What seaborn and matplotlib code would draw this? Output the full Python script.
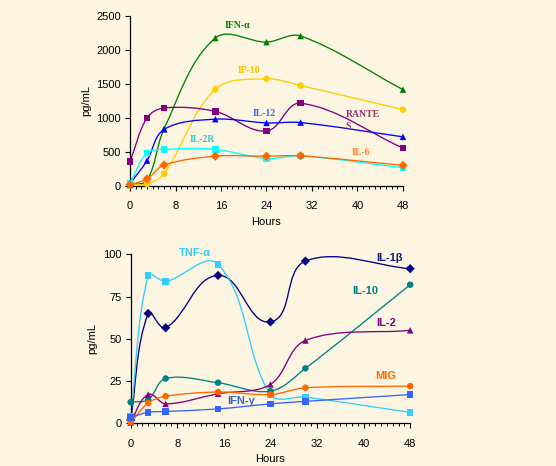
import numpy as np
import pandas as pd
import matplotlib
matplotlib.use("Agg")
import matplotlib.pyplot as plt
from matplotlib.path import Path
from matplotlib.patches import PathPatch
from matplotlib.ticker import MultipleLocator
import seaborn as sns

# Data
hours = [0, 3, 6, 15, 24, 30, 48]

# top panel (pg/mL)
ifn_a = [10, 80, 840, 2175, 2115, 2205, 1415]
ip10 = [15, 25, 175, 1420, 1575, 1475, 1120]
rantes = [355, 1000, 1145, 1095, 805, 1215, 555]
il12 = [30, 370, 830, 980, 925, 930, 720]
il2r = [40, 480, 535, 535, 400, 440, 265]
il6 = [15, 100, 305, 435, 435, 440, 300]

# bottom panel (pg/mL)
il1b = [2, 65, 56.5, 87.5, 60, 96, 91.5]
tnf_a = [4, 87.5, 84, 94, 17, 15.5, 6.5]
il10 = [12.5, 14, 26.5, 24, 19, 32.5, 82]
il2 = [0.5, 17, 11.5, 17.5, 23, 49, 55]
mig = [0.5, 12, 16, 18.5, 17, 21, 22]
ifn_g = [3.5, 6.5, 7, 8.5, 11.5, 13, 17]

top_series = [
    # name, values, line colour, marker, label colour, label pos
    ("IFN-α", ifn_a, "#008000", "^", "#008000", (18.9, 2360)),
    ("IP-10", ip10, "#FFCC00", "o", "#F5C000", (21.0, 1700)),
    ("RANTES", rantes, "#800080", "s", "#993366", None),
    ("IL-12", il12, "#0000FF", "^", "#3366FF", (23.6, 1065)),
    ("IL-2R", il2r, "#00FFFF", "s", "#33CCCC", (12.8, 685)),
    ("IL-6", il6, "#FF6600", "D", "#FF7F27", (40.6, 495)),
]
bottom_series = [
    ("IL-1β", il1b, "#000080", "D", "#1A1A7A", (44.4, 97.8)),
    ("TNF-α", tnf_a, "#33CCFF", "s", "#33CCFF", (11.0, 100.6)),
    ("IL-10", il10, "#008080", "o", "#008080", (40.2, 78.3)),
    ("IL-2", il2, "#800080", "^", "#800080", (43.9, 59.2)),
    ("MIG", mig, "#FF6600", "o", "#FF6600", (43.8, 28.2)),
    ("IFN-γ", ifn_g, "#3366FF", "s", "#3366CC", (19.0, 13.2)),
]

bg = "#FCF5E1"
sns.set_theme(style="ticks", rc={"axes.facecolor": bg, "figure.facecolor": bg})
plt.rcParams["font.family"] = ["Liberation Sans", "DejaVu Sans"]


def smooth_path(xs, ys, sx, sy):
    # smoothed line (bezier through the points), tangents worked out in
    # screen-like units so steep jumps don't overshoot
    pts = np.column_stack([np.asarray(xs) * sx, np.asarray(ys) * sy]).astype(float)
    n = len(pts)
    tang = []
    for i in range(n):
        d = pts[min(i + 1, n - 1)] - pts[max(i - 1, 0)]
        tang.append(d / np.hypot(*d))
    verts = [pts[0]]
    codes = [Path.MOVETO]
    for i in range(n - 1):
        seg = np.hypot(*(pts[i + 1] - pts[i]))
        verts += [pts[i] + tang[i] * seg / 3,
                  pts[i + 1] - tang[i + 1] * seg / 3,
                  pts[i + 1]]
        codes += [Path.CURVE4] * 3
    verts = np.array(verts) / [sx, sy]
    return Path(verts, codes)


def draw_panel(ax, series, ymax, ystep, label_font, label_size):
    df = pd.concat(
        [pd.DataFrame({"hours": hours, "value": vals, "name": name})
         for name, vals, *_ in series],
        ignore_index=True,
    )
    bbox = ax.get_position()
    sx = bbox.width * 556 / 48
    sy = bbox.height * 466 / ymax
    for name, vals, color, marker, lcolor, pos in series:
        ax.add_patch(PathPatch(smooth_path(hours, vals, sx, sy), fill=False,
                               edgecolor=color, lw=0.95, clip_on=False, zorder=2))
    sns.scatterplot(
        data=df, x="hours", y="value", hue="name", style="name",
        palette={s[0]: s[2] for s in series},
        markers={s[0]: s[3] for s in series},
        s=22, linewidth=0, legend=False, ax=ax, clip_on=False, zorder=3,
    )
    for name, vals, color, marker, lcolor, pos in series:
        if pos is not None:
            ax.text(pos[0], pos[1], name, color=lcolor, fontsize=label_size,
                    fontweight="bold", family=label_font,
                    ha="center", va="center")
    ax.set_xlim(0, 48)
    ax.set_ylim(0, ymax)
    ax.xaxis.set_major_locator(MultipleLocator(8))
    ax.xaxis.set_minor_locator(MultipleLocator(1))
    ax.yaxis.set_major_locator(MultipleLocator(ystep))
    ax.tick_params(axis="x", which="major", length=3.5, width=0.8,
                   pad=7.5, labelsize=8, colors="black")
    ax.tick_params(axis="x", which="minor", length=2, width=0.7, colors="black")
    ax.tick_params(axis="y", which="major", length=3.5, width=0.8,
                   pad=3, labelsize=8, colors="black")
    for side in ["top", "right"]:
        ax.spines[side].set_visible(False)
    for side in ["left", "bottom"]:
        ax.spines[side].set_color("black")
        ax.spines[side].set_linewidth(0.9)
    ax.set_xlabel("Hours", fontsize=8, labelpad=4, color="black")
    ax.set_ylabel("pg/mL", fontsize=8, labelpad=4, color="black")


fig = plt.figure(figsize=(5.56, 4.66), dpi=100)
ax1 = fig.add_axes([130 / 556, 1 - 185.7 / 466, 273 / 556, 169.7 / 466])
ax2 = fig.add_axes([130.7 / 556, 1 - 423.3 / 466, 279.5 / 556, 169 / 466])

draw_panel(ax1, top_series, 2500, 500, ["Liberation Serif", "DejaVu Serif"], 7)
ax1.text(37.9, 960, "RANTE\nS", color="#993366", fontsize=7,
         fontweight="bold", family=["Liberation Serif", "DejaVu Serif"],
         ha="left", va="center", linespacing=1.4)
draw_panel(ax2, bottom_series, 100, 25, ["Liberation Sans", "DejaVu Sans"], 8)

fig.savefig("out.png", dpi=100, facecolor=bg)
